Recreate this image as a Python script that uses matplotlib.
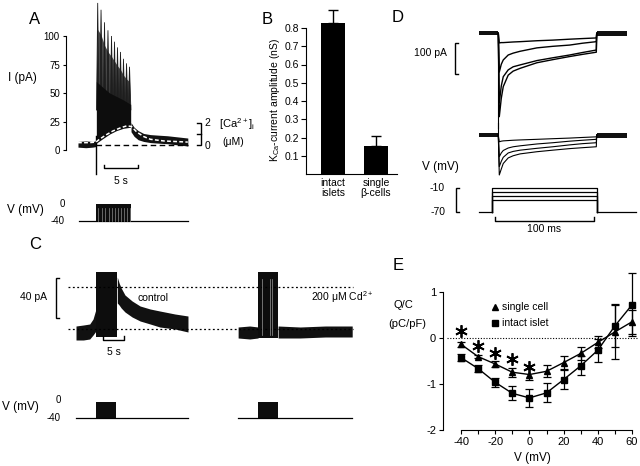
import matplotlib
matplotlib.use("Agg")
import matplotlib.pyplot as plt
from matplotlib.lines import Line2D

plt.rcParams.update({
    "font.family": ["Liberation Sans", "DejaVu Sans"],
    "mathtext.fontset": "custom",
    "mathtext.rm": "Liberation Sans",
    "mathtext.it": "Liberation Sans:italic",
    "mathtext.default": "regular",
    "axes.unicode_minus": False,
})

# ---------------- data ----------------
# Panel A : current (pA) and [Ca2+]i during a burst, time in s
A_base_t = [-2.65, -1.5, -0.5, 0.0]
A_base_lo = [2.5, 2.0, 2.5, 3.0]
A_base_hi = [7.5, 8.0, 7.5, 8.0]
A_spike_t = [0.25, 0.74, 1.25, 1.76, 2.28, 2.72, 3.16, 3.60, 4.04, 4.49, 4.93]
A_spike_peak = [129, 123, 112, 105, 100, 95, 90, 86, 80, 76, 73]
A_band_t = [0.05, 1.0, 2.0, 3.0, 4.0, 5.1]
A_band_lo = [6, 10, 14, 17, 19, 20]
A_band_hi = [60, 55, 50, 47, 44, 40]
A_post_t = [5.15, 5.6, 6.2, 7.0, 8.0, 9.2, 10.5, 12.0, 13.5]
A_post_mid = [20, 16, 13, 11, 10, 9.5, 9, 8, 7]
A_post_half = [4, 4, 4, 3.5, 3.5, 3.5, 3.5, 3.5, 3.5]
A_transient = [-21, 12]
A_ca_t = [-2.65, -1.0, 0.0, 0.5, 1.5, 2.5, 3.5, 4.5, 5.2, 6.0, 7.0, 8.0, 10.0, 13.5]
A_ca = [0.25, 0.25, 0.3, 0.55, 0.95, 1.3, 1.55, 1.75, 1.7, 1.2, 0.8, 0.55, 0.4, 0.3]
CA_ZERO_PA = 4.0
CA_PA_PER_UM = 9.8
A_dash_t = [0.0, 13.5]
A_dash_level = 4.0
A_yticks = [0, 25, 50, 75, 100]
A_V_base_t = [-2.5, 13.5]
A_V_burst = [0.0, 5.15]
A_V_levels = [-40, 0]

# Panel B : KCa-current amplitude
B_categories = ["intact\nislets", "single\nβ-cells"]
B_values = [0.83, 0.155]
B_err = [0.066, 0.051]
B_yticks = [0.1, 0.2, 0.3, 0.4, 0.5, 0.6, 0.7, 0.8]

# Panel C : control and Cd2+ traces (pA, s)
C_levels = [0, 42]
C_ctrl_pre_t = [-4.76, -3.0, -1.5, -0.7, 0.0]
C_ctrl_pre_lo = [-11, -11, -10, -6, -2]
C_ctrl_pre_hi = [3, 4, 5, 10, 20]
C_ctrl_block = [0.0, 5.07]
C_ctrl_post_t = [5.07, 5.5, 6.0, 6.9, 8.6, 10.5, 12.9, 15.2, 18.8, 21.9]
C_ctrl_post_lo = [26, 24, 21, 17, 12, 8, 5, 2, 0, -3]
C_ctrl_post_hi = [52, 46, 41, 34, 28, 23, 20, 18, 15, 13]
C_block_top = 57
C_cd_pre_t = [-4.76, -2.0, 0.0]
C_cd_pre_lo = [-9, -10, -9]
C_cd_pre_hi = [2, 3, 2]
C_cd_block = [0.0, 4.76]
C_cd_post_t = [4.76, 10.0, 16.0, 22.4]
C_cd_post_lo = [-9, -9, -8, -8]
C_cd_post_hi = [3, 2, 3, 3]
C_cd_streaks = [0.9, 2.9, 3.3]
C_V_ctrl = {"base": [-4.76, 21.9], "block": [0.0, 4.7]}
C_V_cd = {"base": [-4.76, 22.3], "block": [0.0, 4.76]}
C_V_levels = [-40, 0]

# Panel D : step-evoked currents (pA, ms)
D_t = [0, 1, 3, 5, 10, 15, 22, 39, 55, 72, 85, 99]
D_top = [
    [0, -31, -30, -30, -29, -28, -27, -24, -22, -19, -17, -15],
    [0, -125, -100, -86, -70, -64, -58, -47, -42, -38, -32, -27],
    [0, -225, -170, -140, -118, -108, -102, -88, -79, -70, -62, -54],
    [0, -269, -210, -172, -135, -122, -113, -95, -85, -75, -68, -61],
]
D_mid = [
    [0, -22, -20, -19, -18, -17, -16, -14, -12, -10, -8, -6],
    [0, -70, -58, -50, -42, -38, -35, -29, -25, -20, -17, -14],
    [0, -102, -85, -72, -58, -53, -49, -43, -38, -32, -28, -25],
    [0, -129, -110, -92, -74, -67, -61, -54, -49, -44, -41, -38],
]
D_transient_top = -305
D_transient_mid = 39
D_pre_t = [-19.5, 0]
D_post_t = [99.4, 130]
D_steps = [-10, -20, -30, -40]
D_hold = -70
D_step_on, D_step_off = -6.4, 99.7
D_V_base = [-19.5, 139]

# Panel E : Q/C vs V
E_v = [-40, -30, -20, -10, 0, 10, 20, 30, 40, 50, 60]
E_single = [-0.13, -0.40, -0.56, -0.74, -0.79, -0.72, -0.53, -0.33, -0.09, 0.14, 0.36]
E_single_err = [0.05, 0.04, 0.07, 0.10, 0.13, 0.13, 0.14, 0.15, 0.13, 0.60, 0.26]
E_islet = [-0.42, -0.66, -0.96, -1.20, -1.30, -1.19, -0.90, -0.60, -0.26, 0.27, 0.73]
E_islet_err = [0.07, 0.08, 0.10, 0.15, 0.20, 0.21, 0.21, 0.21, 0.25, 0.45, 0.69]
E_star_v = [-40, -30, -20, -10, 0]
E_star_y = [0.17, -0.16, -0.31, -0.46, -0.62]
E_yticks = [-2, -1, 0, 1]
E_xticks = [-40, -30, -20, -10, 0, 10, 20, 30, 40, 50, 60]

# ---------------- layout helpers ----------------
W, H = 640, 466
fig = plt.figure(figsize=(6.4, 4.66), dpi=100)
K = "black"


def make_ax(L, T, R, B, x0, sx, y0, sy, axis_off=True):
    """Axes whose data origin (0,0) sits at pixel (x0, y0) with sx, sy px per unit."""
    ax = fig.add_axes([L / W, 1 - B / H, (R - L) / W, (B - T) / H])
    ax.set_xlim((L - x0) / sx, (R - x0) / sx)
    ax.set_ylim((y0 - B) / sy, (y0 - T) / sy)
    ax.patch.set_alpha(0)
    if axis_off:
        ax.axis("off")
    return ax


def ptext(x, y, s, **kw):
    kw.setdefault("ha", "center")
    kw.setdefault("va", "center")
    fig.text(x / W, 1 - y / H, s, **kw)


def bracket(ax, x, y0, y1, tick, mid=None, lw=1.0):
    ax.plot([x + tick, x, x, x + tick], [y0, y0, y1, y1], color=K, lw=lw,
            solid_joinstyle="miter", clip_on=False)
    if mid is not None:
        ax.plot([x, x + tick], [mid, mid], color=K, lw=lw, clip_on=False)


def hbar(ax, x0, x1, y, tick, lw=1.0):
    ax.plot([x0, x0, x1, x1], [y + tick, y, y, y + tick], color=K, lw=lw, clip_on=False)


# ---------------- Panel A ----------------
axA = make_ax(50, 0, 215, 186, 96, 6.8, 150, 1.14, axis_off=False)
for s in ["top", "right", "bottom"]:
    axA.spines[s].set_visible(False)
axA.spines["left"].set_position(("data", -4.4))
axA.spines["left"].set_bounds(0, 100)
axA.set_yticks(A_yticks)
axA.set_xticks([])
axA.tick_params(axis="y", direction="out", length=2.5, pad=2, labelsize=7)

axA.fill_between(A_base_t, A_base_lo, A_base_hi, color="#111", lw=0)
# gray comb under the spikes
gray_hi = [0.82 * p for p in A_spike_peak]
axA.fill_between(A_spike_t, 30, gray_hi, color="#4a4a4a", lw=0)
for t, p in zip(A_spike_t, A_spike_peak):
    axA.fill([t - 0.17, t, t + 0.2], [35, p, 35], color="#1e1e1e", lw=0.6)
axA.fill_between(A_band_t, A_band_lo, A_band_hi, color="#0d0d0d", lw=0)
axA.fill_between(A_post_t, [m - h for m, h in zip(A_post_mid, A_post_half)],
                 [m + h for m, h in zip(A_post_mid, A_post_half)], color="#111", lw=0)
axA.plot([0, 0], A_transient, color=K, lw=1.0)
axA.plot(A_dash_t, [A_dash_level] * 2, color=K, lw=1.0, dashes=(4, 2.5))
axA.plot(A_ca_t, [CA_ZERO_PA + CA_PA_PER_UM * c for c in A_ca], color="white",
         lw=1.1, dashes=(2.5, 1.5))
# 5 s bar
hbar(axA, 1.18, 6.18, -15.8, 3.0)
axA.text(3.68, -27, "5 s", ha="center", va="center", fontsize=7.5)
# Ca scale
bracket(axA, 15.4, CA_ZERO_PA, CA_ZERO_PA + 2 * CA_PA_PER_UM, -0.6,
        mid=CA_ZERO_PA + CA_PA_PER_UM)
axA.text(16.0, CA_ZERO_PA + 2 * CA_PA_PER_UM + 0.5, "2", ha="left", va="center", fontsize=7.5)
axA.text(16.0, CA_ZERO_PA - 0.8, "0", ha="left", va="center", fontsize=7.5)
ptext(219, 124, r"[Ca$^{2+}$]$_i$", ha="left", fontsize=8)
ptext(222, 142, "(μM)", ha="left", fontsize=7.5)
ptext(22, 78, "I (pA)", fontsize=8.5)
ptext(35, 20, "A", fontsize=12)

# V_A: 0 mV at pixel 204, 17 px per 40 mV
axAV = make_ax(50, 192, 215, 232, 96, 6.8, 204, 17 / 40)
axAV.plot(A_V_base_t, [A_V_levels[0]] * 2, color=K, lw=0.9)
axAV.fill_between(A_V_burst, A_V_levels[0], A_V_levels[1], color="#0d0d0d", lw=0)
for t in A_spike_t:
    axAV.plot([t + 0.1, t + 0.1], [A_V_levels[0] + 1, A_V_levels[1] - 10], color="#8a8a8a", lw=0.5)
ptext(25, 210, "V (mV)", fontsize=8.5)
ptext(65, 204, "0", ha="right", fontsize=7)
ptext(65, 221, "-40", ha="right", fontsize=7)

# ---------------- Panel B ----------------
axB = make_ax(300, 0, 400, 174, 333, 43, 174, 182.5, axis_off=False)
for s in ["top", "right"]:
    axB.spines[s].set_visible(False)
axB.spines["left"].set_position(("data", -0.628))
axB.spines["left"].set_bounds(0, 0.8)
axB.spines["bottom"].set_bounds(-0.628, 1.49)
bx = list(range(len(B_values)))
axB.bar(bx, B_values, width=0.56, color=K, zorder=2)
axB.errorbar(bx, B_values, yerr=[[0] * len(B_err), B_err], fmt="none", ecolor=K,
             elinewidth=1, capsize=3.5, capthick=1, zorder=1)
axB.set_yticks(B_yticks)
axB.set_yticklabels([f"{v:.1f}" for v in B_yticks])
axB.set_xticks(bx)
axB.set_xticklabels(B_categories, fontsize=7.5, linespacing=1.0)
axB.tick_params(axis="y", direction="out", length=3.6, pad=1.5, labelsize=7.5)
axB.tick_params(axis="x", length=0, pad=3)
ptext(275, 100, r"K$_{Ca}$-current amplitude (nS)", rotation=90, fontsize=7.5)
ptext(267, 20, "B", fontsize=12)

# ---------------- Panel C ----------------
axC = make_ax(0, 262, 378, 362, 96, 4.2, 329, 1.0)
CD_SHIFT = 38.6
for lvl in C_levels:
    axC.plot([-6.67, 61.2], [lvl, lvl], color=K, lw=0.9, ls=(0, (1.5, 2)))
axC.fill_between(C_ctrl_pre_t, C_ctrl_pre_lo, C_ctrl_pre_hi, color="#111", lw=0)
axC.fill_between(C_ctrl_block, -8, C_block_top, color="#0d0d0d", lw=0)
axC.fill_between(C_ctrl_post_t, C_ctrl_post_lo, C_ctrl_post_hi, color="#111", lw=0)
axC.fill_between([t + CD_SHIFT for t in C_cd_pre_t], C_cd_pre_lo, C_cd_pre_hi, color="#111", lw=0)
axC.fill_between([t + CD_SHIFT for t in C_cd_block], -9, C_block_top, color="#0d0d0d", lw=0)
for t in C_cd_streaks:
    axC.plot([t + CD_SHIFT] * 2, [-6, 50], color="#9a9a9a", lw=0.5)
axC.fill_between([t + CD_SHIFT for t in C_cd_post_t], C_cd_post_lo, C_cd_post_hi, color="#111", lw=0)
bracket(axC, -9.52, 11, 51, 0.75)
axC.text(-11.7, 32, "40 pA", ha="right", va="center", fontsize=7.5)
hbar(axC, 1.67, 6.67, -11, 4)
axC.text(4.17, -23, "5 s", ha="center", va="center", fontsize=7.5)
axC.text(10.0, 31, "control", ha="left", va="center", fontsize=7.5)
axC.text(51.3, 32, r"200 μM Cd$^{2+}$", ha="left", va="center", fontsize=7.5)
ptext(35, 245, "C", fontsize=12)

axCV = make_ax(0, 390, 378, 430, 96, 4.2, 402, 0.4)
for d, sh in [(C_V_ctrl, 0.0), (C_V_cd, CD_SHIFT)]:
    axCV.plot([t + sh for t in d["base"]], [C_V_levels[0]] * 2, color=K, lw=0.9)
    axCV.fill_between([t + sh for t in d["block"]], C_V_levels[0], C_V_levels[1],
                      color="#0d0d0d", lw=0)
ptext(20, 407, "V (mV)", fontsize=8.5)
ptext(61, 400, "0", ha="right", fontsize=7)
ptext(61, 418, "-40", ha="right", fontsize=7)

# ---------------- Panel D ----------------
axD = make_ax(420, 0, 640, 180, 498.3, 0.99, 33.3, 0.31)
MID_OFFSET = -328
for base in [0, MID_OFFSET]:
    axD.fill_between(D_pre_t, base - 6, base + 6, color="#111", lw=0)
    axD.fill_between(D_post_t, base - 9, base + 7, color="#111", lw=0)
for tr in D_top:
    axD.plot(D_t + [D_t[-1] + 0.4], tr + [0], color=K, lw=1.0)
for tr in D_mid:
    axD.plot(D_t + [D_t[-1] + 0.4], [v + MID_OFFSET for v in tr] + [MID_OFFSET], color=K, lw=0.8)
axD.plot([0, 0], [0, D_transient_top], color=K, lw=0.8)
axD.plot([0, 0], [MID_OFFSET, MID_OFFSET + D_transient_mid], color=K, lw=0.8)
bracket(axD, -43.7, -131.3, -31.3, 3)
axD.text(-51.8, -64, "100 pA", ha="right", va="center", fontsize=7.5)
ptext(398, 18, "D", fontsize=12)

# V_D: -70 mV at pixel 211.7, 23.7 px per 60 mV
D_SY = 23.7 / 60
axDV = make_ax(420, 180, 640, 240, 498.3, 0.99, 211.7 + D_hold * D_SY, D_SY)
axDV.plot([D_V_base[0], D_step_on], [D_hold] * 2, color=K, lw=0.9)
axDV.plot([D_step_off, D_V_base[1]], [D_hold] * 2, color=K, lw=0.9)
for lvl in D_steps:
    axDV.plot([D_step_on, D_step_on, D_step_off, D_step_off], [D_hold, lvl, lvl, D_hold],
              color=K, lw=0.9)
bracket(axDV, -42.7, D_steps[0], D_hold, 3)
axDV.text(-53.8, D_steps[0], "-10", ha="right", va="center", fontsize=7.5)
axDV.text(-53.8, D_hold, "-70", ha="right", va="center", fontsize=7.5)
hbar(axDV, -3.3, 96.7, -93.5, 10)
axDV.text(46.7, -113.8, "100 ms", ha="center", va="center", fontsize=7.5)
ptext(440, 167, "V (mV)", fontsize=8.5)

# ---------------- Panel E ----------------
axE = make_ax(440, 262, 640, 432, 529.4, 1.71, 338.3, 45.85, axis_off=False)
for s in ["top", "right"]:
    axE.spines[s].set_visible(False)
axE.spines["left"].set_position(("data", -50.5))
axE.spines["left"].set_bounds(-2, 1)
axE.spines["bottom"].set_position(("data", -2))
axE.spines["bottom"].set_bounds(-40, 60)
axE.set_yticks(E_yticks)
axE.set_yticklabels([str(v) for v in E_yticks])
axE.set_xticks(E_xticks)
axE.set_xticklabels([str(v) if v % 20 == 0 else "" for v in E_xticks])
axE.tick_params(direction="out", length=3, pad=2, labelsize=8)
axE.plot([-48.2, 63.6], [0, 0], color=K, lw=0.8, ls=(0, (1, 1.5)))
axE.errorbar(E_v, E_islet, yerr=E_islet_err, color=K, marker="s", ms=4, lw=1,
             elinewidth=0.9, capsize=3, capthick=0.9)
axE.errorbar(E_v, E_single, yerr=E_single_err, color=K, marker="^", ms=4.5, lw=1,
             elinewidth=0.9, capsize=3, capthick=0.9)
axE.plot(E_star_v, E_star_y, ls="none", marker=(6, 2, 0), ms=9, mew=1.3, color=K)
fig.add_artist(Line2D([495 / W], [1 - 307 / H], marker="^", ms=4.5, color=K,
                      transform=fig.transFigure))
fig.add_artist(Line2D([495 / W], [1 - 323 / H], marker="s", ms=4, color=K,
                      transform=fig.transFigure))
ptext(502, 307, "single cell", ha="left", fontsize=7.5)
ptext(502, 323, "intact islet", ha="left", fontsize=7.5)
ptext(403, 305, "Q/C", fontsize=8)
ptext(407, 324, "(pC/pF)", fontsize=8)
ptext(532, 458, "V (mV)", fontsize=8.5)
ptext(398, 265, "E", fontsize=12)

fig.savefig("out.png", dpi=100)
